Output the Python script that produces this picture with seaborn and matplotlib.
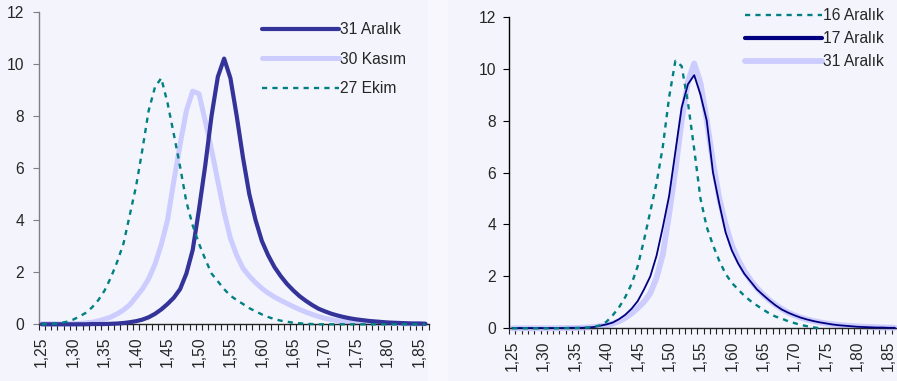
import numpy as np
import matplotlib.pyplot as plt
import seaborn as sns

# category axis: 1,25 ... 1,86
x_vals = [1.25, 1.26, 1.27, 1.28, 1.29, 1.30, 1.31, 1.32, 1.33, 1.34,
          1.35, 1.36, 1.37, 1.38, 1.39, 1.40, 1.41, 1.42, 1.43, 1.44,
          1.45, 1.46, 1.47, 1.48, 1.49, 1.50, 1.51, 1.52, 1.53, 1.54,
          1.55, 1.56, 1.57, 1.58, 1.59, 1.60, 1.61, 1.62, 1.63, 1.64,
          1.65, 1.66, 1.67, 1.68, 1.69, 1.70, 1.71, 1.72, 1.73, 1.74,
          1.75, 1.76, 1.77, 1.78, 1.79, 1.80, 1.81, 1.82, 1.83, 1.84,
          1.85, 1.86]

aralik31 = [0.0, 0.0, 0.0, 0.0, 0.0, 0.0, 0.0, 0.0, 0.01, 0.01,
            0.01, 0.02, 0.03, 0.05, 0.08, 0.12, 0.18, 0.27, 0.40, 0.57,
            0.78, 1.02, 1.35, 1.95, 2.85, 4.4, 6.1, 8.0, 9.5, 10.2,
            9.45, 8.0, 6.4, 5.0, 4.0, 3.2, 2.65, 2.2, 1.85, 1.55,
            1.3, 1.08, 0.9, 0.74, 0.6, 0.5, 0.41, 0.34, 0.28, 0.23,
            0.19, 0.16, 0.13, 0.11, 0.09, 0.07, 0.06, 0.05, 0.04, 0.03,
            0.03, 0.02]

kasim30 = [0.02, 0.02, 0.02, 0.02, 0.02, 0.02, 0.03, 0.05, 0.08, 0.13,
           0.2, 0.28, 0.4, 0.55, 0.75, 1.05, 1.35, 1.75, 2.3, 3.05,
           4.0, 5.5, 6.9, 8.2, 8.95, 8.85, 7.8, 6.7, 5.5, 4.3,
           3.3, 2.65, 2.15, 1.85, 1.6, 1.38, 1.2, 1.05, 0.92, 0.8,
           0.68, 0.57, 0.47, 0.38, 0.3, 0.23, 0.18, 0.14, 0.11, 0.09,
           0.07, 0.06, 0.05, 0.04, 0.04, 0.03, 0.03, 0.03, 0.02, 0.02,
           0.02, 0.02]

ekim27 = [0.0, 0.01, 0.02, 0.05, 0.1, 0.18, 0.3, 0.44, 0.65, 0.93,
          1.3, 1.8, 2.4, 3.1, 4.2, 5.3, 6.7, 8.2, 9.1, 9.45,
          8.5, 7.3, 6.05, 4.7, 3.8, 3.1, 2.5, 1.95, 1.65, 1.35,
          1.1, 0.93, 0.78, 0.62, 0.5, 0.38, 0.28, 0.2, 0.14, 0.1,
          0.06, 0.04, 0.02, 0.01, 0.0, 0.0, 0.0, 0.0, 0.0, 0.0,
          0.0, 0.0, 0.0, 0.0, 0.0, 0.0, 0.0, 0.0, 0.0, 0.0,
          0.0, 0.0]

aralik16 = [0.0, 0.0, 0.0, 0.0, 0.0, 0.0, 0.0, 0.0, 0.01, 0.01,
            0.01, 0.02, 0.03, 0.05, 0.12, 0.25, 0.5, 0.8, 1.2, 1.7,
            2.4, 3.4, 4.5, 5.6, 7.0, 8.9, 10.3, 10.1, 8.7, 6.9,
            5.0, 3.9, 3.2, 2.6, 2.1, 1.75, 1.5, 1.25, 1.05, 0.88,
            0.72, 0.57, 0.45, 0.37, 0.27, 0.2, 0.13, 0.08, 0.04, 0.0,
            np.nan, np.nan, np.nan, np.nan, np.nan, np.nan, np.nan, np.nan, np.nan, np.nan,
            np.nan, np.nan]

aralik17 = [0.01, 0.01, 0.01, 0.01, 0.01, 0.01, 0.01, 0.01, 0.01, 0.02,
            0.02, 0.02, 0.03, 0.05, 0.1, 0.15, 0.22, 0.35, 0.52, 0.75,
            1.05, 1.5, 2.0, 2.8, 3.9, 5.1, 6.8, 8.5, 9.4, 9.75,
            9.0, 8.0, 6.0, 4.8, 3.7, 3.0, 2.5, 2.1, 1.8, 1.5,
            1.28, 1.07, 0.88, 0.72, 0.6, 0.5, 0.41, 0.34, 0.28, 0.23,
            0.19, 0.15, 0.12, 0.1, 0.08, 0.06, 0.05, 0.04, 0.03, 0.03,
            0.02, 0.02]

bg = "#F3F4FC"
teal = "#008080"
lav = "#CCCCFF"
dark = "#333399"
navy = "#000080"
fs = 11.25

sns.set_style("ticks")
plt.rcParams["font.family"] = ["Liberation Sans", "DejaVu Sans"]
plt.rcParams["font.size"] = fs

fig = plt.figure(figsize=(8.97, 3.81), dpi=100, facecolor=bg)
fig.add_artist(plt.Rectangle((428 / 897, 0), 19 / 897, 1, transform=fig.transFigure,
                             color="#F7F7FD", zorder=0))

ax1 = fig.add_axes([38.6 / 897, 0.1488, 389.9 / 897, 0.8205])
ax2 = fig.add_axes([509.2 / 897, 0.1383, 388.8 / 897, 0.8178])

dotted = (0, (2.2, 2.2))

# left panel
sns.lineplot(x=x_vals, y=kasim30, ax=ax1, color=lav, lw=3.6, label="30 Kasım", zorder=2)
sns.lineplot(x=x_vals, y=aralik31, ax=ax1, color=dark, lw=3.0, label="31 Aralık", zorder=3)
sns.lineplot(x=x_vals, y=ekim27, ax=ax1, color=teal, lw=1.7, linestyle=dotted,
             label="27 Ekim", zorder=4)

# right panel
sns.lineplot(x=x_vals, y=aralik31, ax=ax2, color=lav, lw=4.2, label="31 Aralık", zorder=2)
sns.lineplot(x=x_vals, y=aralik17, ax=ax2, color=navy, lw=1.3, label="17 Aralık", zorder=3)
sns.lineplot(x=x_vals, y=aralik16, ax=ax2, color=teal, lw=1.7, linestyle=dotted,
             label="16 Aralık", zorder=4)

major = x_vals[::5]
labels = [f"{v:.2f}".replace(".", ",") for v in major]
minor = [v - 0.005 for v in x_vals] + [x_vals[-1] + 0.005]

for ax, ypad, ycol in [(ax1, 6, "#808080"), (ax2, 5, "#000000")]:
    ax.set_facecolor("none")
    ax.set_xlim(1.245, 1.865)
    ax.set_ylim(0, 12)
    ax.set_yticks([0, 2, 4, 6, 8, 10, 12])
    ax.set_xticks(major)
    ax.set_xticklabels(labels, rotation=90)
    ax.set_xticks(minor, minor=True)
    ax.tick_params(axis="x", which="major", length=0, pad=9, labelsize=fs)
    ax.tick_params(axis="x", which="minor", length=4, width=0.8, color="#222222")
    ax.tick_params(axis="y", length=4.5, width=0.8, pad=ypad, labelsize=fs, color=ycol)
    ax.spines["top"].set_visible(False)
    ax.spines["right"].set_visible(False)
    ax.spines["left"].set_color(ycol)
    ax.spines["left"].set_linewidth(1.0)
    ax.spines["bottom"].set_color("#222222")
    ax.spines["bottom"].set_linewidth(1.0)
    ax.set_xlabel("")
    ax.set_ylabel("")
    for ln in ax.get_lines():
        ln.set_clip_on(False)

h1, l1 = ax1.get_legend_handles_labels()
order1 = [1, 0, 2]
leg1 = ax1.legend([h1[i] for i in order1], [l1[i] for i in order1],
                  loc="upper left", bbox_to_anchor=(262 / 897, 1 - 22.5 / 381),
                  bbox_transform=fig.transFigure, frameon=False, handlelength=4.9,
                  handletextpad=0.1, labelspacing=0.92, borderpad=0, borderaxespad=0,
                  fontsize=fs)

h2, l2 = ax2.get_legend_handles_labels()
order2 = [2, 1, 0]
leg2 = ax2.legend([h2[i] for i in order2], [l2[i] for i in order2],
                  loc="upper left", bbox_to_anchor=(745 / 897, 1 - 8.5 / 381),
                  bbox_transform=fig.transFigure, frameon=False, handlelength=4.9,
                  handletextpad=0.1, labelspacing=0.51, borderpad=0, borderaxespad=0,
                  fontsize=fs)
leg2.get_lines()[1].set_linewidth(3.0)

fig.savefig("out.png", dpi=100, facecolor=bg)
